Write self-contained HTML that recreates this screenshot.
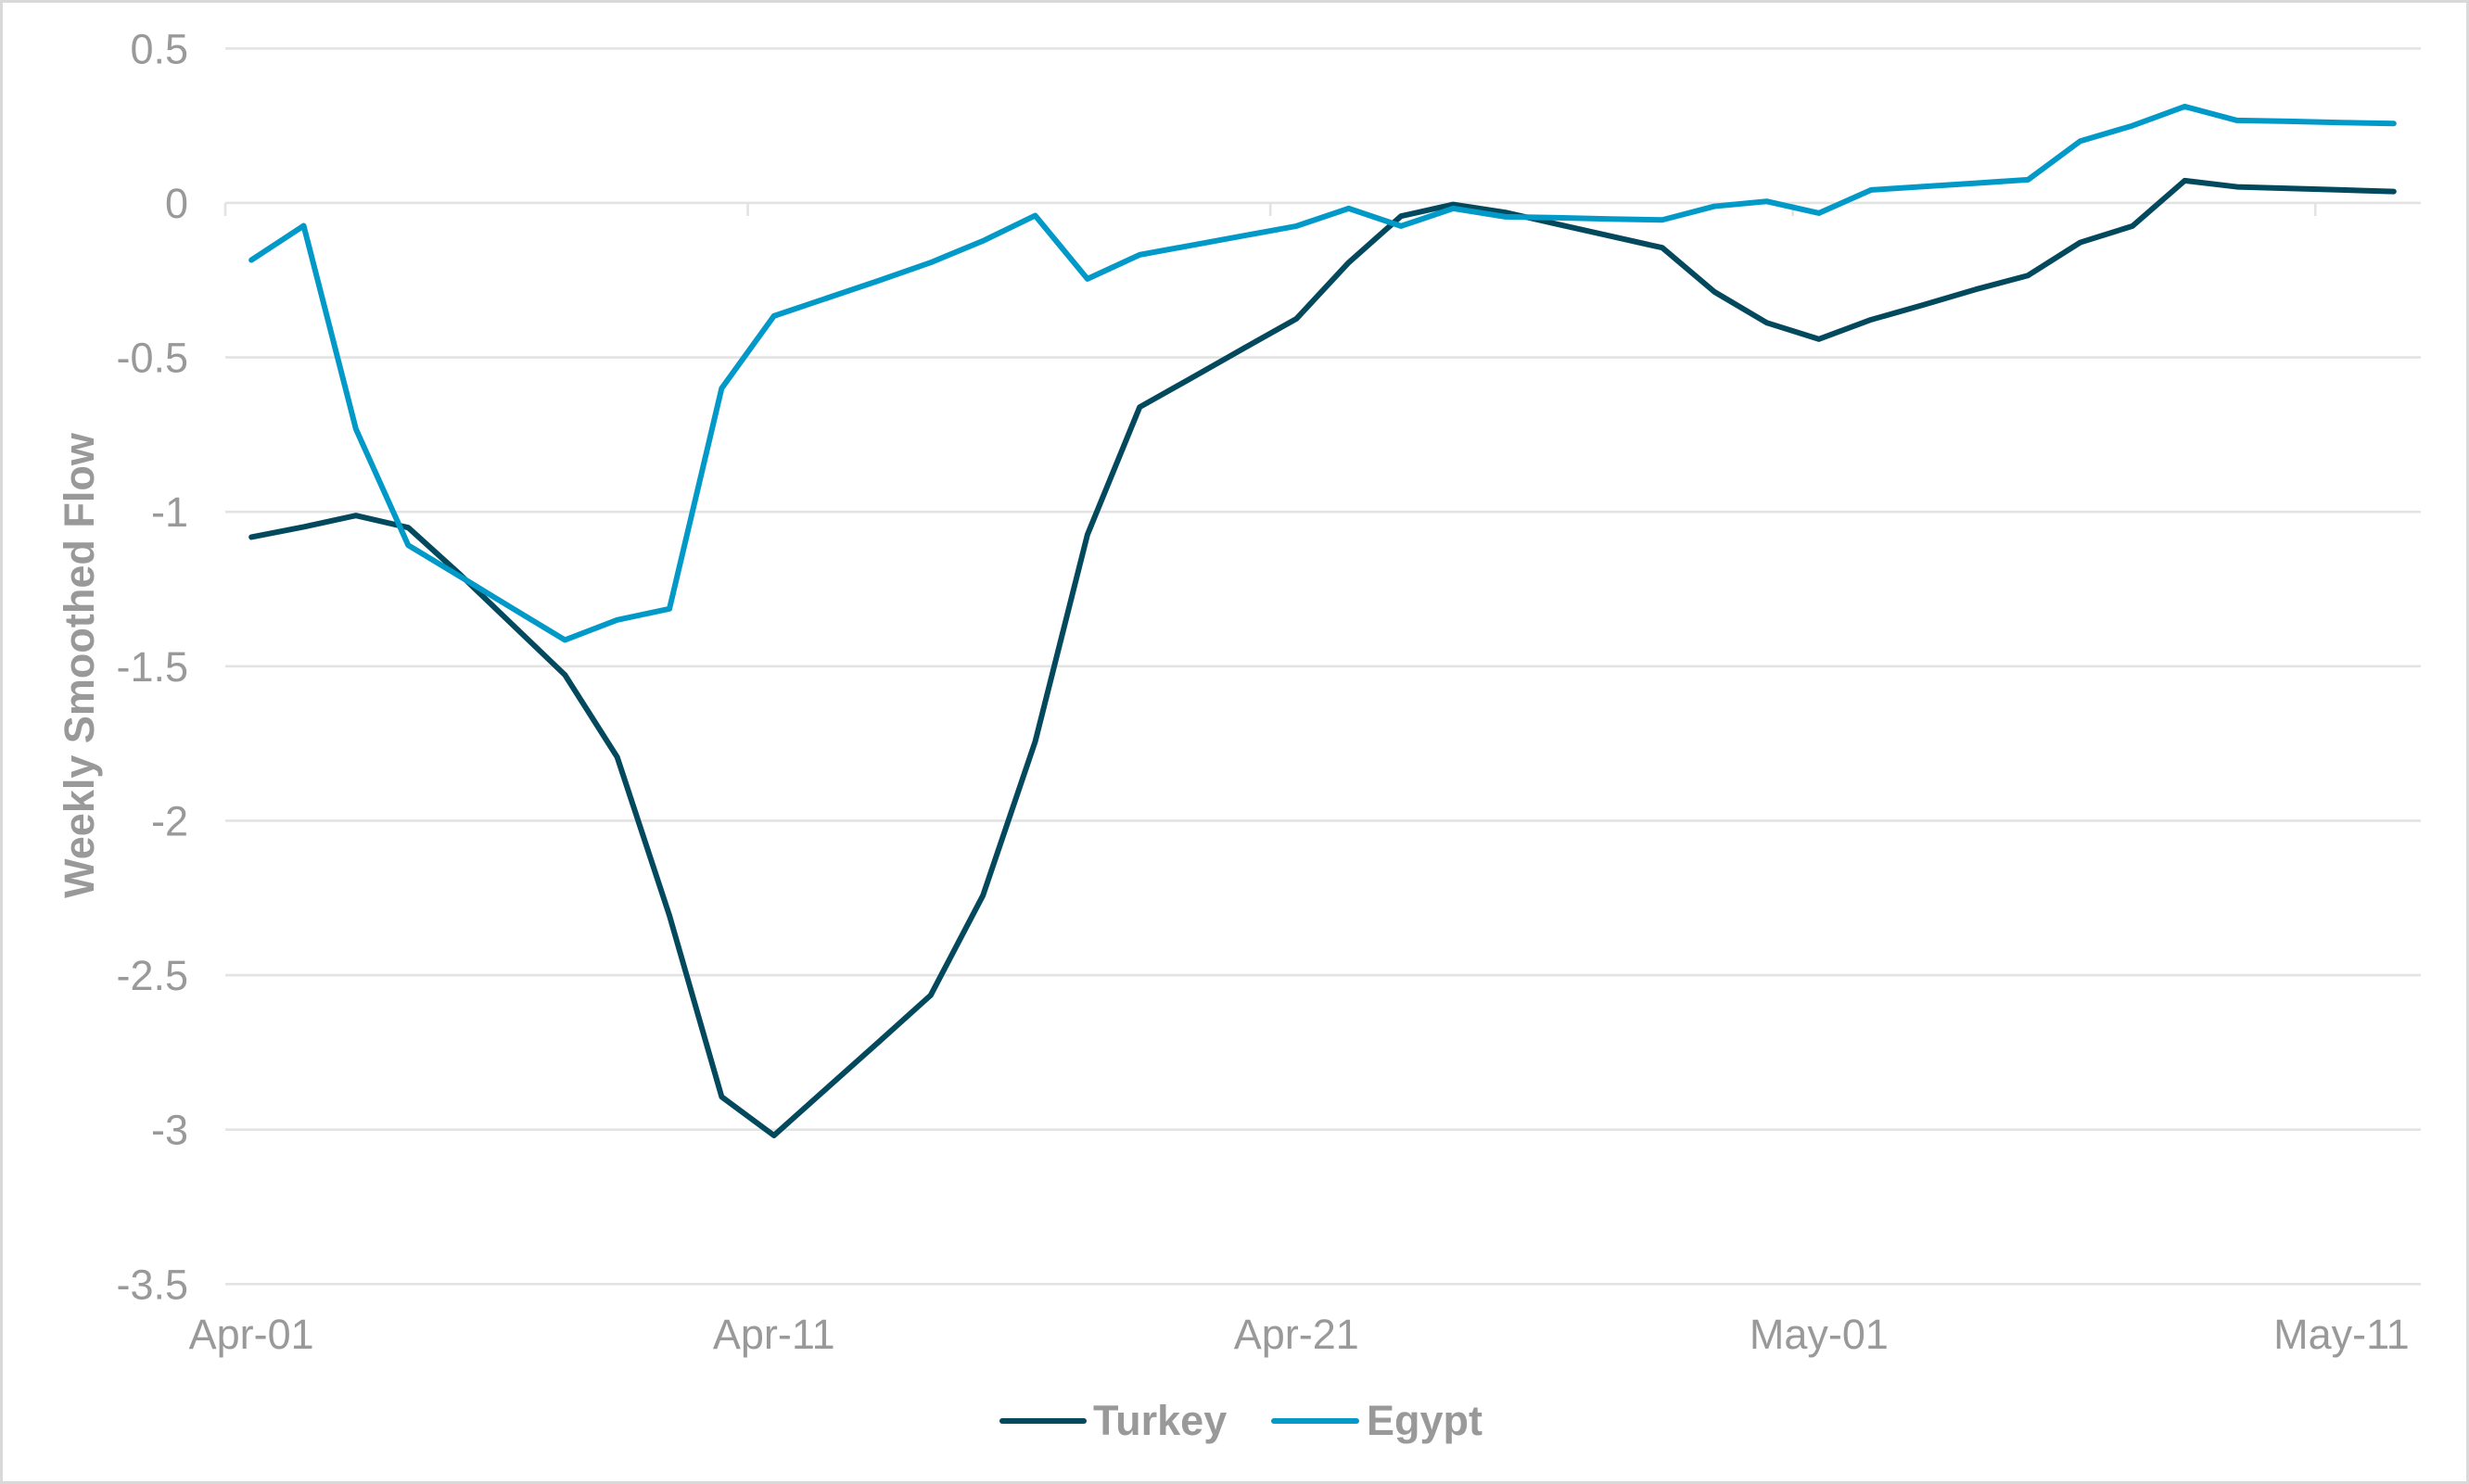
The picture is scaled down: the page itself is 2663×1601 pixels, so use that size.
<!DOCTYPE html>
<html>
<head>
<meta charset="utf-8">
<style>
  html, body { margin: 0; padding: 0; background: #ffffff; }
  body { width: 2663px; height: 1601px; overflow: hidden; }
  svg { display: block; }
  text { font-family: "Liberation Sans", Arial, sans-serif; fill: #999999; }
</style>
</head>
<body>
<svg width="2663" height="1601" viewBox="0 0 2663 1601" xmlns="http://www.w3.org/2000/svg">
  <rect x="0" y="0" width="2663" height="1601" fill="#ffffff"/>
  <rect x="1.5" y="1.5" width="2660" height="1598" fill="none" stroke="#d9d9d9" stroke-width="3"/>

  <!-- gridlines -->
  <g stroke="#e3e3e3" stroke-width="2.6" fill="none">
    <line x1="243" y1="52.28" x2="2611" y2="52.28"/>
    <line x1="243" y1="385.53" x2="2611" y2="385.53"/>
    <line x1="243" y1="552.15" x2="2611" y2="552.15"/>
    <line x1="243" y1="718.78" x2="2611" y2="718.78"/>
    <line x1="243" y1="885.4" x2="2611" y2="885.4"/>
    <line x1="243" y1="1052.03" x2="2611" y2="1052.03"/>
    <line x1="243" y1="1218.65" x2="2611" y2="1218.65"/>
    <line x1="243" y1="1385.28" x2="2611" y2="1385.28"/>
  </g>
  <!-- zero axis + ticks -->
  <g stroke="#e3e3e3" stroke-width="2.6" fill="none">
    <line x1="243" y1="218.9" x2="2611" y2="218.9"/>
    <line x1="243" y1="218.9" x2="243" y2="233"/>
    <line x1="806.57" y1="218.9" x2="806.57" y2="233"/>
    <line x1="1370.14" y1="218.9" x2="1370.14" y2="233"/>
    <line x1="1933.71" y1="218.9" x2="1933.71" y2="233"/>
    <line x1="2497.28" y1="218.9" x2="2497.28" y2="233"/>
  </g>

  <!-- y tick labels -->
  <g font-size="45" text-anchor="end">
    <text x="203" y="68.3">0.5</text>
    <text x="203" y="234.9">0</text>
    <text x="203" y="401.5">-0.5</text>
    <text x="203" y="568.2">-1</text>
    <text x="203" y="734.8">-1.5</text>
    <text x="203" y="901.4">-2</text>
    <text x="203" y="1068">-2.5</text>
    <text x="203" y="1234.7">-3</text>
    <text x="203" y="1401.3">-3.5</text>
  </g>

  <!-- x tick labels -->
  <g font-size="45" text-anchor="middle">
    <text x="271.18" y="1455">Apr-01</text>
    <text x="834.75" y="1455">Apr-11</text>
    <text x="1398.32" y="1455">Apr-21</text>
    <text x="1961.89" y="1455">May-01</text>
    <text x="2525.46" y="1455">May-11</text>
  </g>

  <!-- y axis title -->
  <text x="0" y="0" font-size="45" font-weight="bold" text-anchor="middle" transform="translate(101,718) rotate(-90)">Weekly Smoothed Flow</text>

  <!-- series -->
  <g transform="translate(271.18,218.9) scale(56.357,-333.25)" fill="none" stroke-linejoin="round" stroke-linecap="round">
    <polyline vector-effect="non-scaling-stroke" stroke="#03495e" stroke-width="6" points="
      0,-1.082 1,-1.049 2,-1.012 3,-1.051 4,-1.204 5,-1.366 6,-1.528 7,-1.794 8,-2.307 9,-2.894
      10,-3.019 11,-2.868 12,-2.717 13,-2.565 14,-2.242 15,-1.744 16,-1.074 17,-0.661 18,-0.566 19,-0.470
      20,-0.375 21,-0.193 22,-0.043 23,-0.005 24,-0.031 25,-0.069 26,-0.107 27,-0.145 28,-0.288 29,-0.388
      30,-0.441 31,-0.378 32,-0.330 33,-0.280 34,-0.235 35,-0.128 36,-0.075 37,0.072 38,0.052 39,0.047
      40,0.042 41,0.037"/>
    <polyline vector-effect="non-scaling-stroke" stroke="#0099c8" stroke-width="6" points="
      0,-0.185 1,-0.074 2,-0.732 3,-1.108 4,-1.210 5,-1.313 6,-1.415 7,-1.350 8,-1.314 9,-0.600
      10,-0.366 11,-0.309 12,-0.252 13,-0.193 14,-0.123 15,-0.041 16,-0.246 17,-0.168 18,-0.137 19,-0.106
      20,-0.075 21,-0.018 22,-0.075 23,-0.018 24,-0.045 25,-0.048 26,-0.052 27,-0.055 28,-0.011 29,0.005
      30,-0.033 31,0.042 32,0.053 33,0.064 34,0.075 35,0.200 36,0.250 37,0.312 38,0.267 39,0.264
      40,0.260 41,0.257"/>
  </g>

  <!-- legend -->
  <g stroke-width="6" stroke-linecap="round">
    <line x1="1081" y1="1533" x2="1169" y2="1533" stroke="#03495e"/>
    <line x1="1374" y1="1533" x2="1463" y2="1533" stroke="#0099c8"/>
  </g>
  <g font-size="45" font-weight="bold">
    <text x="1179" y="1548">Turkey</text>
    <text x="1474" y="1548">Egypt</text>
  </g>
</svg>
</body>
</html>
